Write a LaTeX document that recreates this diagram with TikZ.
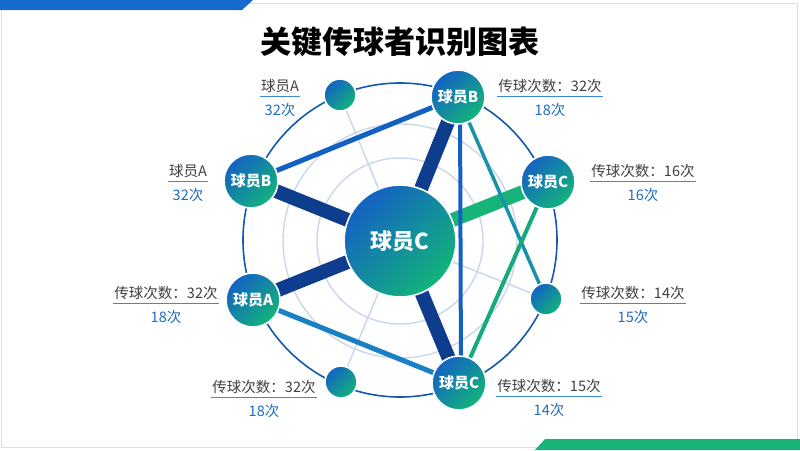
\documentclass[tikz,border=0pt]{standalone}
\usepackage{fontspec}
\setmainfont{Noto Sans CJK SC}
\newfontfamily\titlefont{Noto Sans CJK SC Black}
\usetikzlibrary{calc}
\definecolor{navy}{HTML}{0E3D8E}
\definecolor{ringc}{HTML}{C9D7EC}
\definecolor{outerc}{HTML}{1558B0}
\definecolor{ballA}{HTML}{1462C4}
\definecolor{ballB}{HTML}{12B47A}
\definecolor{greenT}{HTML}{17B379}
\definecolor{blueL}{HTML}{1260C2}
\definecolor{tealL}{HTML}{1792AA}
\definecolor{greenL}{HTML}{14AA7B}
\definecolor{skyL}{HTML}{1A80C6}
\definecolor{txtg}{HTML}{404040}
\definecolor{txtb}{HTML}{1E6DC0}
\definecolor{uline}{HTML}{3C8AD0}
\definecolor{bandblue}{HTML}{176BCE}
\definecolor{bandgreen}{HTML}{18B477}
\pgfdeclarelayer{back}
\pgfsetlayers{back,main}
\tikzset{
  ball/.style={circle, draw=white, line width=1.6pt, top color=ballA, bottom color=ballB,
    shading angle=45, inner sep=0pt, text=white, font=\bfseries\fontsize{15}{15}\selectfont},
  bignode/.style={ball, minimum size=54pt},
  smallnode/.style={ball, minimum size=32pt},
  hubnode/.style={ball, minimum size=112pt, font=\bfseries\fontsize{22}{22}\selectfont},
  ring/.style={draw=ringc, line width=1.4pt},
  outer/.style={draw=outerc, line width=1.6pt},
  spoke/.style={draw=ringc, line width=1.4pt},
  thickc/.style={draw=navy, line width=14pt},
  lbltop/.style={text=txtg, font=\fontsize{14.5}{15}\selectfont, inner xsep=1pt, inner ysep=0pt},
  lblbot/.style={text=txtb, font=\fontsize{14.5}{15}\selectfont, inner sep=0pt},
  ulin/.style={draw=uline, line width=1.2pt},
}
\newcommand{\plab}[5]{%
  \node[lbltop] (#1t) at (#2,#3) {#4};
  \node[lblbot] (#1b) at (#2,#3+24) {#5};
  \draw[ulin] ([yshift=-3.5pt]#1t.south west) -- ([yshift=-3.5pt]#1t.south east);
}
\begin{document}
\begin{tikzpicture}[x=1pt,y=-1pt]
\useasboundingbox (0,0) rectangle (800,450);
% nodes
\node[hubnode] (hub) at (400,241) {球员C};
\node[bignode] (bt) at (458,97) {球员B};
\node[smallnode] (st) at (340,95) {};
\node[bignode] (bl) at (251,181) {球员B};
\node[bignode] (al) at (253,300) {球员A};
\node[smallnode] (sb) at (341,382) {};
\node[bignode] (cb) at (459,383) {球员C};
\node[smallnode] (sr) at (546,299) {};
\node[bignode] (cr) at (548,182) {球员C};
\begin{pgfonlayer}{back}
  \fill[white] (0,0) rectangle (800,450);
  % frame and bands
  \draw[gray!25, line width=0.8pt] (1,3) rectangle (797,447);
  \fill[bandblue] (0,0) -- (253,0) -- (242,10) -- (0,10) -- cycle;
  \fill[bandgreen] (545,439) -- (800,439) -- (800,450) -- (535,450) -- cycle;
  \draw[ring] (hub.center) circle[radius=83pt];
  \draw[ring] (hub.center) circle[radius=117pt];
  \draw[outer] (400,240) circle[radius=157pt];
  \draw[spoke] (hub.center) -- (st.center);
  \draw[spoke] (hub.center) -- (sr.center);
  \draw[spoke] (hub.center) -- (sb.center);
  \draw[thickc] (hub.center) -- (bt.center);
  \draw[thickc] (hub.center) -- (bl.center);
  \draw[thickc] (hub.center) -- (al.center);
  \draw[thickc] (hub.center) -- (cb.center);
  \draw[draw=greenT, line width=14pt] (hub.center) -- (cr.center);
  \draw[draw=blueL, line width=5pt] (bt.center) -- (bl.center);
  \draw[draw=blueL, line width=4pt] ([xshift=2pt]bt.center) -- ([xshift=2pt]cb.center);
  \draw[draw=tealL, line width=3.5pt] (bt.center) -- (sr.center);
  \draw[draw=greenL, line width=4pt] (cr.center) -- (cb.center);
  \draw[draw=skyL, line width=5pt] (al.center) -- (cb.center);
\end{pgfonlayer}
% title
\node[font=\titlefont\fontsize{31}{31}\selectfont, text=black] (title) at (400,42) {关键传球者识别图表};
% labels
\plab{la}{280}{86}{球员A}{32次}
\plab{lb}{188}{171}{球员A}{32次}
\plab{lc}{550}{86}{传球次数：32次}{18次}
\plab{ld}{643}{171}{传球次数：16次}{16次}
\plab{le}{633}{293}{传球次数：14次}{15次}
\plab{lf}{166}{293}{传球次数：32次}{18次}
\plab{lg}{264}{387}{传球次数：32次}{18次}
\plab{lh}{549}{386}{传球次数：15次}{14次}
\end{tikzpicture}
\end{document}
